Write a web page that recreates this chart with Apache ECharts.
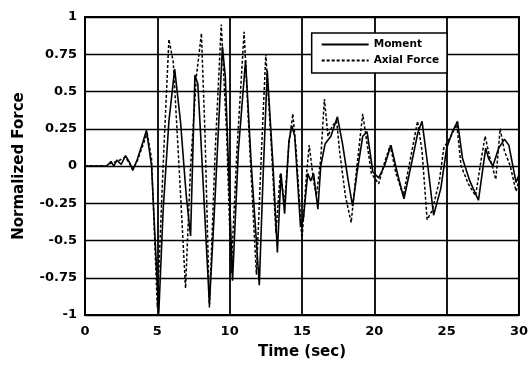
<!DOCTYPE html>
<html>
<head>
<meta charset="utf-8">
<script src="https://cdn.jsdelivr.net/npm/echarts@6/dist/echarts.min.js"></script>
<style>html,body{margin:0;padding:0;background:#fff}#c{width:531px;height:367px}</style>
</head>
<body>
<div id="c"></div>
<script>
const momentT = [0,1.5,1.8,2.0,2.2,2.5,2.8,3.1,3.3,3.6,4.0,4.25,4.6,4.85,5.1,5.4,5.8,6.2,6.6,7.0,7.3,7.6,7.8,8.0,8.6,9.0,9.5,9.7,10.2,10.6,11.1,11.5,12.05,12.3,12.6,13.0,13.3,13.55,13.8,14.1,14.3,14.5,14.9,15.1,15.4,15.6,15.8,16.1,16.3,16.6,17.0,17.45,17.8,18.2,18.5,18.8,19.2,19.5,19.9,20.3,20.7,21.15,21.6,22.05,22.6,23.0,23.3,23.7,24.1,24.6,25.0,25.4,25.75,26.1,26.6,27.2,27.7,27.9,28.2,28.6,29.0,29.3,29.8,30];
const momentV = [0,0,0.03,0.0,0.04,0.01,0.07,0.02,-0.03,0.04,0.16,0.24,0.0,-0.5,-0.99,-0.3,0.3,0.65,0.3,-0.2,-0.47,0.61,0.55,0.2,-0.93,-0.2,0.80,0.6,-0.77,0.1,0.71,0.0,-0.8,-0.1,0.64,0.0,-0.58,-0.05,-0.32,0.17,0.27,0.2,-0.41,-0.35,-0.05,-0.1,-0.05,-0.29,0.0,0.15,0.2,0.33,0.15,-0.1,-0.27,-0.05,0.2,0.23,-0.04,-0.08,0.0,0.14,-0.05,-0.22,0.03,0.22,0.30,0.0,-0.33,-0.15,0.12,0.23,0.30,0.05,-0.1,-0.23,0.12,0.05,0.0,0.12,0.18,0.14,-0.11,-0.06];
const axialT = [0,1.5,1.8,2.2,2.8,3.3,3.6,4.0,4.3,4.6,5.0,5.4,5.8,6.1,6.5,6.95,7.3,7.7,8.05,8.3,8.6,9.0,9.42,9.8,10.1,10.5,11.0,11.4,11.85,12.2,12.5,12.9,13.2,13.5,13.8,14.1,14.37,14.6,15.0,15.3,15.5,15.8,16.0,16.3,16.55,16.8,17.1,17.4,17.6,18.0,18.4,18.8,19.2,19.5,19.8,20.3,20.7,21.1,21.5,22.0,22.5,22.99,23.3,23.65,24.0,24.5,24.8,25.3,25.7,26.0,26.5,27.0,27.4,27.66,28.0,28.4,28.7,29.0,29.4,29.8,30];
const axialV = [0,0,0.02,0.03,0.06,-0.02,0.03,0.14,0.22,0.05,-0.95,0.0,0.85,0.7,0.0,-0.82,0.0,0.6,0.89,0.2,-0.95,0.1,0.95,0.2,-0.72,0.1,0.9,0.1,-0.73,0.1,0.75,0.1,-0.45,-0.05,-0.25,0.15,0.35,0.1,-0.5,-0.07,0.14,-0.1,-0.2,0.05,0.45,0.2,0.27,0.3,0.1,-0.2,-0.38,0.0,0.35,0.15,-0.05,-0.12,0.02,0.14,-0.05,-0.2,0.05,0.30,0.1,-0.36,-0.3,-0.1,0.12,0.2,0.28,0.0,-0.12,-0.2,0.05,0.2,0.05,-0.09,0.25,0.1,0.0,-0.17,-0.1];
const seriesNames = ['Moment','Axial Force'];
const xTicks = {min:0,max:30,step:5};
const yTicks = {min:-1,max:1,step:0.25};

const pairs = (t,v) => t.map((x,i)=>[x,v[i]]);
const font = '"DejaVu Sans", Arial, sans-serif';
const chart = echarts.init(document.getElementById('c'), null, {renderer:'canvas'});
chart.setOption({
  animation:false,
  backgroundColor:'#fff',
  grid:{left:85,right:10,top:17,bottom:52,show:true,borderColor:'#000',borderWidth:2,backgroundColor:'transparent'},
  legend:{
    right:84,top:33,orient:'vertical',
    backgroundColor:'#fff',borderColor:'#000',borderWidth:1.5,borderRadius:0,
    padding:[6,8,7,9],itemGap:5,itemWidth:47,itemHeight:12,
    itemStyle:{opacity:0},
    textStyle:{fontFamily:font,fontWeight:'bold',fontSize:10.5,color:'#000'},
    data:seriesNames
  },
  xAxis:{type:'value',min:xTicks.min,max:xTicks.max,interval:xTicks.step,
    name:'Time (sec)',nameLocation:'middle',nameGap:30,
    nameTextStyle:{fontFamily:font,fontWeight:'bold',fontSize:15,color:'#000'},
    axisLine:{show:false},axisTick:{show:false},
    axisLabel:{margin:10,fontFamily:font,fontWeight:'bold',fontSize:13,color:'#000'},
    splitLine:{show:true,lineStyle:{color:'#000',width:1.8}}},
  yAxis:{type:'value',min:yTicks.min,max:yTicks.max,interval:yTicks.step,
    name:'Normalized Force',nameLocation:'middle',nameGap:58,
    nameTextStyle:{fontFamily:font,fontWeight:'bold',fontSize:15,color:'#000'},
    axisLine:{show:false},axisTick:{show:false},
    axisLabel:{margin:8,fontFamily:font,fontWeight:'bold',fontSize:13,color:'#000'},
    splitLine:{show:true,lineStyle:{color:'#000',width:1.3}}},
  series:[
    {name:seriesNames[0],type:'line',symbol:'none',data:pairs(momentT,momentV),
     lineStyle:{color:'#000',width:1.6,type:'solid'},itemStyle:{color:'#000'},z:3},
    {name:seriesNames[1],type:'line',symbol:'none',data:pairs(axialT,axialV),
     lineStyle:{color:'#000',width:1.5,type:[3,2]},itemStyle:{color:'#000'},z:2}
  ]
});
</script>
</body>
</html>
